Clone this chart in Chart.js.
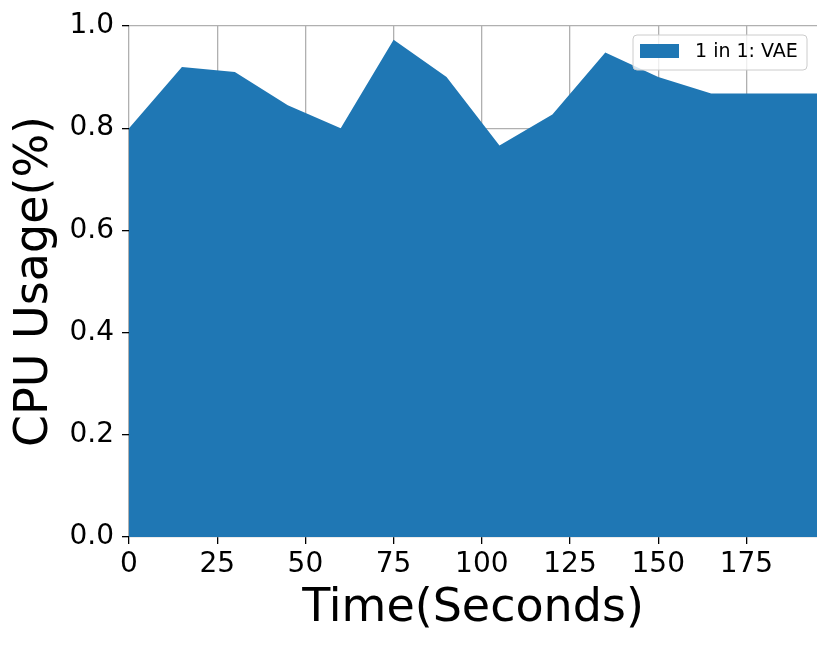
<!DOCTYPE html>
<html lang="en">
  <head>
    <meta charset="utf-8" />
    <title>CPU Usage</title>
    <style>
      html, body { margin: 0; padding: 0; background: #fff; }
      #wrap { width: 831px; height: 648px; }
    </style>
  </head>
  <body>
    <div id="wrap">
      <canvas id="canvas" width="831" height="648"></canvas>
    </div>

    <script src="https://cdn.jsdelivr.net/npm/chart.js"></script>

    <script>
      // values, one sample every 15 s
      const seconds = [0, 15, 30, 45, 60, 75, 90, 105, 120, 135, 150, 165, 180, 195];
      const cpuUsage = [0.80, 0.92, 0.91, 0.845, 0.80, 0.973, 0.90, 0.766, 0.827, 0.948, 0.90, 0.868, 0.868, 0.868];
      const seriesLabel = "1 in 1: VAE";
      const xTicks = [0, 25, 50, 75, 100, 125, 150, 175];
      const yTicks = [0.0, 0.2, 0.4, 0.6, 0.8, 1.0];

      const blue = "#1f77b4";
      const fontFamily = "'DejaVu Sans', sans-serif";

      // matplotlib-style legend box inside the plot
      const boxLegend = {
        id: "boxLegend",
        afterDraw(chart) {
          const ctx = chart.ctx;
          const area = chart.chartArea;
          const w = 174, h = 35;
          const x = area.right - 10 - w;
          const y = area.top + 9;
          ctx.save();
          ctx.beginPath();
          ctx.roundRect(x, y, w, h, 4);
          ctx.fillStyle = "rgba(255,255,255,0.8)";
          ctx.fill();
          ctx.strokeStyle = "#cccccc";
          ctx.lineWidth = 1;
          ctx.stroke();
          ctx.fillStyle = blue;
          ctx.fillRect(x + 7, y + 9, 39, 14);
          ctx.fillStyle = "#000";
          ctx.font = "19px " + fontFamily;
          ctx.textBaseline = "middle";
          ctx.fillText(chart.data.datasets[0].label, x + 62, y + 17);
          ctx.restore();
        },
      };

      const ctx = document.getElementById("canvas");

      new Chart(ctx, {
        type: "line",
        data: {
          datasets: [
            {
              label: seriesLabel,
              data: seconds.map((s, i) => ({ x: s, y: cpuUsage[i] })),
              fill: "origin",
              backgroundColor: blue,
              borderColor: blue,
              borderWidth: 0,
              pointRadius: 0,
              tension: 0,
            },
          ],
        },
        options: {
          responsive: false,
          animation: false,
          layout: { padding: { top: 26, right: 14, bottom: 0, left: 0 } },
          plugins: {
            legend: { display: false },
            tooltip: { enabled: false },
          },
          scales: {
            x: {
              type: "linear",
              min: 0,
              max: 195,
              afterFit: (scale) => { scale.height = 111; },
              afterBuildTicks: (scale) => {
                scale.ticks = xTicks.map((v) => ({ value: v }));
              },
              border: { display: false },
              grid: {
                color: "#b0b0b0",
                lineWidth: 1.3,
                tickColor: "#000",
                tickLength: 7,
              },
              ticks: {
                color: "#000",
                padding: 4,
                font: { family: fontFamily, size: 28 },
              },
              title: {
                display: true,
                text: "Time(Seconds)",
                color: "#000",
                padding: { top: 0, bottom: 11 },
                font: { family: fontFamily, size: 46 },
              },
            },
            y: {
              min: 0,
              max: 1,
              afterFit: (scale) => { scale.width = 129; },
              afterBuildTicks: (scale) => {
                scale.ticks = yTicks.map((v) => ({ value: v }));
              },
              border: { display: false },
              grid: {
                color: "#b0b0b0",
                lineWidth: 1.3,
                tickColor: "#000",
                tickLength: 7,
              },
              ticks: {
                color: "#000",
                padding: 8,
                font: { family: fontFamily, size: 28 },
                callback: (v) => v.toFixed(1),
              },
              title: {
                display: true,
                text: "CPU Usage(%)",
                color: "#000",
                padding: { top: 7, bottom: 0 },
                font: { family: fontFamily, size: 46 },
              },
            },
          },
        },
        plugins: [boxLegend],
      });
    </script>
  </body>
</html>
